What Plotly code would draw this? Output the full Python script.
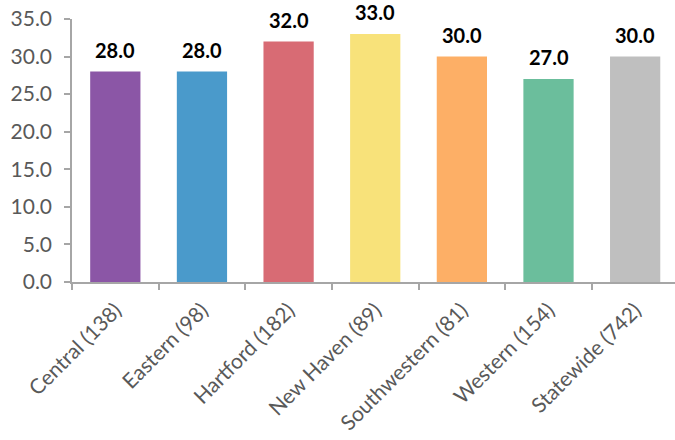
import plotly.graph_objects as go

categories = ["Central (138)", "Eastern (98)", "Hartford (182)", "New Haven (89)",
              "Southwestern (81)", "Western (154)", "Statewide (742)"]
values = [28.0, 28.0, 32.0, 33.0, 30.0, 27.0, 30.0]
colors = ["#8B56A6", "#4A9ACB", "#D86B74", "#F8E27A", "#FDAF66", "#6BBE9C", "#BFBFBF"]
y_ticks = [0, 5, 10, 15, 20, 25, 30, 35]

FONT = "Lato, Carlito, 'Open Sans', sans-serif"

fig = go.Figure(go.Bar(x=categories, y=values, marker=dict(color=colors, line=dict(width=0)),
                       width=0.58))

for c, v in zip(categories, values):
    fig.add_annotation(x=c, y=v, text=f"<b>{v:.1f}</b>", showarrow=False,
                       yanchor="bottom", yshift=9, borderpad=0,
                       font=dict(family=FONT, size=20, color="#000000"))

fig.update_layout(
    width=675, height=440,
    margin=dict(l=72, r=0, t=19, b=158),
    plot_bgcolor="white", paper_bgcolor="white",
    showlegend=False,
    font=dict(family=FONT, size=21, color="#595959"),
)
fig.update_xaxes(
    range=[-0.5, 6.46], tickangle=-45, tickson="boundaries",
    showline=True, linecolor="#A6A6A6", linewidth=1.5,
    ticks="outside", ticklen=6, tickcolor="#A6A6A6", tickwidth=1.5,
    showgrid=False, ticklabelstandoff=6,
    tickfont=dict(family=FONT, size=21, color="#595959"),
)
fig.update_yaxes(
    range=[0, 35], tickvals=y_ticks, tickformat=".1f",
    showline=True, linecolor="#A6A6A6", linewidth=1.5,
    ticks="outside", ticklen=6, tickcolor="#A6A6A6", tickwidth=1.5,
    showgrid=False, zeroline=False, ticklabelstandoff=8,
    tickfont=dict(family=FONT, size=21, color="#595959"),
)

fig.write_html("out.html")
